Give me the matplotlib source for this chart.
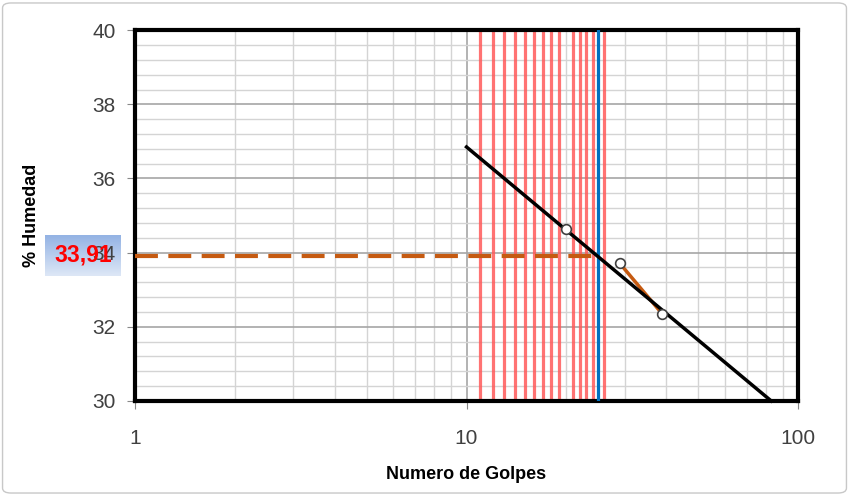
import numpy as np
import matplotlib
matplotlib.use("Agg")
import matplotlib.pyplot as plt
from matplotlib.patches import FancyBboxPatch
from matplotlib.ticker import FixedLocator, NullFormatter

# datos del ensayo (Limite liquido)
golpes = [20, 29, 39]
humedad = [34.65, 33.71, 32.34]
lineas_rojas = [11, 12, 13, 14, 15, 16, 17, 18, 19, 21, 22, 23, 24, 26]
golpes_ref = 25
ll = 33.91
trend_x = [10, 83]
trend_y = [36.85, 30.0]

plt.rcParams["font.family"] = ["Liberation Sans", "DejaVu Sans"]

fig = plt.figure(figsize=(8.49, 4.95), dpi=100)
ax = fig.add_axes([0.159, 0.190, 0.781, 0.749])
ax.set_xscale("log")
ax.set_xlim(1, 100)
ax.set_ylim(30, 40)

ax.set_yticks(np.arange(30, 41, 2))
ax.yaxis.set_minor_locator(FixedLocator(np.arange(30, 40.01, 0.4)))
ax.set_xticks([1, 10, 100])
ax.set_xticklabels(["1", "10", "100"])
ax.xaxis.set_minor_formatter(NullFormatter())
ax.grid(which="major", color="#a6a6a6", lw=1.2)
ax.grid(which="minor", color="#d4d4d4", lw=1.0)
ax.set_axisbelow(True)
ax.tick_params(which="major", length=6, color="#888888", labelsize=15,
               labelcolor="#404040")
ax.tick_params(axis="y", pad=8)
ax.tick_params(axis="x", pad=14)
ax.tick_params(which="minor", length=0)
for s in ax.spines.values():
    s.set_linewidth(3)
    s.set_color("black")

for g in lineas_rojas:
    ax.axvline(g, color="#ff5a5a", alpha=0.85, lw=2.3, zorder=2)
ax.axvline(golpes_ref, color="#0070c0", lw=2.3, zorder=3)

ax.plot([1, golpes_ref], [ll, ll], color="#c55a11", lw=3, ls=(0, (5.5, 2.5)), zorder=3)
ax.plot(golpes[1:], humedad[1:], color="#c55a11", lw=2.5, zorder=4)
ax.plot(trend_x, trend_y, color="black", lw=2.5, zorder=5, clip_on=False)
ax.plot(golpes, humedad, ls="none", marker="o", ms=7, mfc="white",
        mec="#404040", mew=1.2, zorder=6)

ax.set_xlabel("Numero de Golpes", fontsize=13, fontweight="bold")
ax.set_ylabel("% Humedad", fontsize=13, fontweight="bold")
ax.xaxis.set_label_coords(0.5, -0.175)
ax.yaxis.set_label_coords(-0.143, 0.5)

# caja con el valor del limite liquido
bax = fig.add_axes([0.053, 0.4424, 0.0895, 0.0828], zorder=-1)
grad = np.linspace(0, 1, 50).reshape(-1, 1)
cmap = matplotlib.colors.LinearSegmentedColormap.from_list("b", ["#94b3e4", "#dde7f6"])
bax.imshow(grad, aspect="auto", cmap=cmap, extent=[0, 1, 0, 1])
bax.set_axis_off()
ax.set_zorder(0)
fig.text(0.0975, 0.484, f"{ll:.2f}".replace(".", ","), color="red", fontsize=16.5,
         fontweight="bold", ha="center", va="center", zorder=5)

fig.patches.append(FancyBboxPatch((0.003, 0.004), 0.994, 0.99, boxstyle="round,pad=0,rounding_size=0.01",
                                  transform=fig.transFigure, fill=False, ec="#c8c8c8", lw=1))

fig.savefig("out.png", dpi=100)
